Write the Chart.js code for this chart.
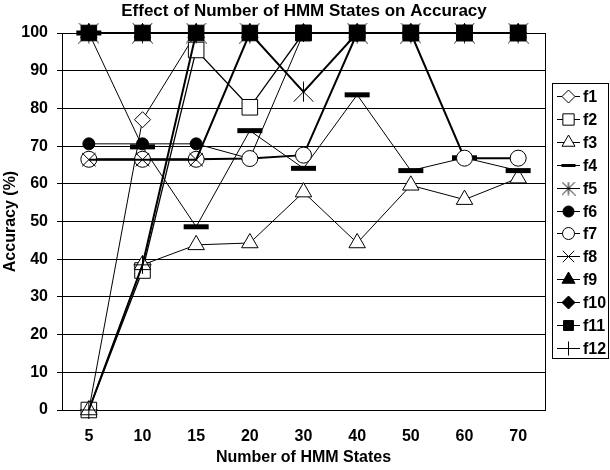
<!DOCTYPE html>
<html>
<head>
<meta charset="utf-8">
<script src="https://cdn.jsdelivr.net/npm/chart.js@4.4.1/dist/chart.umd.min.js"></script>
<style>
  html, body { margin: 0; padding: 0; background: #fff; }
  #wrap { width: 610px; height: 470px; }
</style>
</head>
<body>
<div id="wrap"><canvas id="c" width="610" height="470"></canvas></div>
<script>
// Number of HMM states (category axis)
const states = ['5', '10', '15', '20', '30', '40', '50', '60', '70'];

// Accuracy (%) per feature set
const f1  = [0, 77, 100, 100, 100, 100, 100, 100, 100];
const f2  = [0, 37, 95.5, 80.3, 100, 100, 100, 100, 100];
const f3  = [0, 38.5, 43.8, 44.3, 57.8, 44.3, 59.6, 55.8, 61.5];
const f4  = [100, 69.8, 48.6, 74.1, 64.1, 83.6, 63.5, 66.9, 63.5];
const f5  = [100, 100, 100, 100, 84.4, 100, 100, 100, 100];
const f6  = [70.6, 70.6, 70.6, 66.7, 100, 100, 100, 100, 100];
const f7  = [66.5, 66.5, 66.5, 66.7, 67.6, 100, 100, 66.8, 66.8];
const f8  = [66.4, 66.4, 66.4, 100, 100, 100, 100, 100, 100];
const f9  = [100, 100, 100, 100, 100, 100, 100, 100, 100];
const f10 = [100, 100, 100, 100, 100, 100, 100, 100, 100];
const f11 = [100, 100, 100, 100, 100, 100, 100, 100, 100];
const f12 = [0, 38.5, 100, 100, 100, 100, 100, 100, 100];

const seriesNames = ['f1', 'f2', 'f3', 'f4', 'f5', 'f6', 'f7', 'f8', 'f9', 'f10', 'f11', 'f12'];
const seriesValues = [f1, f2, f3, f4, f5, f6, f7, f8, f9, f10, f11, f12];

// y-axis ticks every 10 from 0 to 100
const yTicks = [0, 10, 20, 30, 40, 50, 60, 70, 80, 90, 100];

const chartTitle = 'Effect of Number of HMM States on Accuracy';
const FONT = "'Liberation Sans', Arial, sans-serif";

// six-armed asterisk marker (vertical stroke plus an X reaching the corners)
function asteriskMarker(size) {
  const c = document.createElement('canvas');
  c.width = size; c.height = size;
  const g = c.getContext('2d');
  const m = size / 2, r = size / 2 - 0.5;
  g.strokeStyle = '#000';
  g.lineWidth = 1;
  g.beginPath();
  g.moveTo(m, m - r); g.lineTo(m, m + r);
  g.moveTo(m - r, m - r); g.lineTo(m + r, m + r);
  g.moveTo(m + r, m - r); g.lineTo(m - r, m + r);
  g.stroke();
  return c;
}

const markerStyles = [
  { pointStyle: 'rectRot',  radius: 8,    bg: '#fff', bw: 1, lw: 1 },   // f1
  { pointStyle: 'rect',     radius: 11,   bg: '#fff', bw: 1, lw: 1.3 }, // f2
  { pointStyle: 'triangle', radius: 9.5,  bg: '#fff', bw: 1, lw: 1 },   // f3
  { pointStyle: 'line',     radius: 12.5, bg: '#000', bw: 5, lw: 1 },   // f4
  { pointStyle: asteriskMarker(21), radius: 10, bg: '#000', bw: 1, lw: 2 }, // f5
  { pointStyle: 'circle',   radius: 6,    bg: '#000', bw: 1, lw: 1 },   // f6
  { pointStyle: 'circle',   radius: 8,    bg: '#fff', bw: 1, lw: 2 },   // f7
  { pointStyle: 'crossRot', radius: 9.5,  bg: '#000', bw: 1, lw: 2 },   // f8
  { pointStyle: 'triangle', radius: 9.5,  bg: '#000', bw: 1, lw: 2 },   // f9
  { pointStyle: 'rectRot',  radius: 8,    bg: '#000', bw: 1, lw: 2 },   // f10
  { pointStyle: 'rect',     radius: 11,   bg: '#000', bw: 1, lw: 2 },   // f11
  { pointStyle: 'cross',    radius: 9,    bg: '#000', bw: 1, lw: 2 }    // f12
];

// smaller symbols used inside the legend box
const legendMarkers = [
  { pointStyle: 'rectRot',  radius: 6.5 },
  { pointStyle: 'rect',     radius: 8 },
  { pointStyle: 'triangle', radius: 7.5 },
  { pointStyle: 'line',     radius: 7, bw: 3 },
  { pointStyle: asteriskMarker(14) },
  { pointStyle: 'circle',   radius: 5.5 },
  { pointStyle: 'circle',   radius: 6 },
  { pointStyle: 'crossRot', radius: 8 },
  { pointStyle: 'triangle', radius: 7.5 },
  { pointStyle: 'rectRot',  radius: 6.5 },
  { pointStyle: 'rect',     radius: 7 },
  { pointStyle: 'cross',    radius: 7 }
];

const datasets = seriesNames.map((name, i) => ({
  label: name,
  data: seriesValues[i],
  borderColor: '#000',
  borderWidth: markerStyles[i].lw,
  backgroundColor: markerStyles[i].bg,
  pointStyle: markerStyles[i].pointStyle,
  pointRadius: markerStyles[i].radius,
  pointBorderWidth: markerStyles[i].bw,
  pointBorderColor: '#000',
  pointBackgroundColor: markerStyles[i].bg,
  fill: false,
  tension: 0,
  clip: false,
  order: seriesNames.length - i   // later series are painted on top
}));

// title, right edge of the plot area and the boxed legend beside it
const frameAndLegend = {
  id: 'frameAndLegend',
  beforeDatasetsDraw(chart) {
    const { ctx, chartArea } = chart;
    ctx.save();
    ctx.strokeStyle = '#000';
    ctx.lineWidth = 1;
    ctx.beginPath();
    ctx.moveTo(Math.round(chartArea.right) + 0.5, chartArea.top);
    ctx.lineTo(Math.round(chartArea.right) + 0.5, chartArea.bottom);
    ctx.stroke();
    ctx.restore();
  },
  afterDraw(chart) {
    const { ctx } = chart;
    ctx.save();
    ctx.fillStyle = '#000';
    ctx.font = 'bold 17px ' + FONT;
    ctx.textAlign = 'center';
    ctx.textBaseline = 'middle';
    ctx.fillText(chartTitle, 304, 11);

    const bx = 552, by = 83, bw = 56, bh = 275;
    ctx.fillStyle = '#fff';
    ctx.fillRect(bx, by, bw, bh);
    ctx.strokeStyle = '#000';
    ctx.lineWidth = 1;
    ctx.strokeRect(bx + 0.5, by + 0.5, bw, bh);
    ctx.font = 'bold 16px ' + FONT;
    ctx.textBaseline = 'middle';
    ctx.textAlign = 'left';
    chart.data.datasets.forEach((ds, i) => {
      const lm = legendMarkers[i];
      const y = Math.round(96 + i * 22.9) + 0.5;
      ctx.strokeStyle = '#000';
      ctx.lineWidth = 1;
      ctx.beginPath();
      ctx.moveTo(557, y);
      ctx.lineTo(580, y);
      ctx.stroke();
      ctx.fillStyle = ds.pointBackgroundColor;
      ctx.strokeStyle = '#000';
      ctx.lineWidth = lm.bw || 1;
      Chart.helpers.drawPoint(ctx, {
        pointStyle: lm.pointStyle,
        radius: lm.radius || 7,
        rotation: 0,
        borderWidth: lm.bw || 1
      }, 568.5, y);
      ctx.fillStyle = '#000';
      ctx.fillText(ds.label, 583, y + 1);
    });
    ctx.restore();
  }
};

new Chart(document.getElementById('c'), {
  type: 'line',
  data: { labels: states, datasets },
  options: {
    responsive: false,
    animation: false,
    devicePixelRatio: 1,
    layout: { padding: { left: 0, top: 33, right: 65, bottom: 0 } },
    plugins: {
      legend: { display: false },
      tooltip: { enabled: false },
      title: { display: false }
    },
    scales: {
      x: {
        type: 'category',
        offset: true,
        grid: { display: false, drawTicks: false, tickLength: 0 },
        border: { display: true, color: '#000', width: 1 },
        ticks: {
          color: '#000',
          padding: 17,
          maxRotation: 0,
          autoSkip: false,
          font: { family: FONT, size: 16, weight: 'bold' }
        },
        title: {
          display: true,
          text: 'Number of HMM States',
          color: '#000',
          padding: { top: 3, bottom: 3 },
          font: { family: FONT, size: 16, weight: 'bold', lineHeight: 1.2 }
        },
        afterFit(scale) { scale.height = 60; }
      },
      y: {
        min: 0,
        max: 100,
        afterBuildTicks(scale) { scale.ticks = yTicks.map(v => ({ value: v })); },
        grid: { color: '#000', lineWidth: 1, drawTicks: true, tickLength: 5 },
        border: { display: true, color: '#000', width: 1 },
        ticks: {
          color: '#000',
          padding: 9,
          font: { family: FONT, size: 16, weight: 'bold' }
        },
        title: {
          display: true,
          text: 'Accuracy (%)',
          color: '#000',
          padding: { top: 1, bottom: 1 },
          font: { family: FONT, size: 16, weight: 'bold', lineHeight: 1.2 }
        },
        afterFit(scale) { scale.width = 62; }
      }
    }
  },
  plugins: [frameAndLegend]
});
</script>
</body>
</html>
